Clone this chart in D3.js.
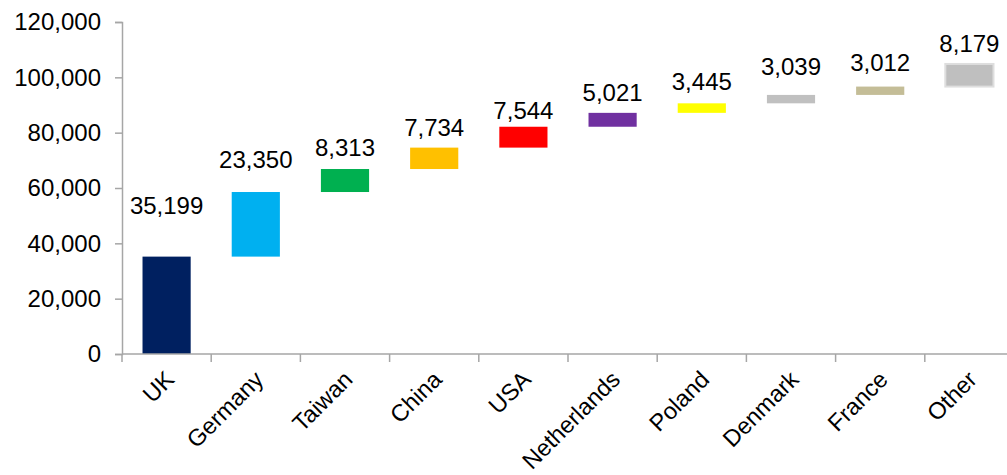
<!DOCTYPE html>
<html>
<head>
<meta charset="utf-8">
<script src="https://cdn.jsdelivr.net/npm/d3@7"></script>
<style>
  html, body { margin: 0; padding: 0; background: #fff; }
  svg { display: block; font-family: "Liberation Sans", Arial, sans-serif; }
</style>
</head>
<body>
<svg id="chart" width="1007" height="475"></svg>
<script>
// ---- Data ----
const categories = ["UK", "Germany", "Taiwan", "China", "USA", "Netherlands", "Poland", "Denmark", "France", "Other"];
const values = [35199, 23350, 8313, 7734, 7544, 5021, 3445, 3039, 3012, 8179];
const yTicks = [0, 20000, 40000, 60000, 80000, 100000, 120000];
const barColors = ["#002060", "#00B0F0", "#00B050", "#FFC000", "#FF0000", "#7030A0", "#FFFF00", "#C0C0C0", "#C4BD97", "#BFBFBF"];

// ---- Layout ----
const svg = d3.select("#chart");
const x0 = 122, x1 = 1014, yTop = 22, yBottom = 354;
const labelLift = [43, 24, 13, 12, 8, 12, 13, 20, 16, 12];

const x = d3.scaleBand().domain(categories).range([x0, x1]).paddingInner(0.46).paddingOuter(0.23);
const y = d3.scaleLinear().domain([0, 120000]).range([yBottom, yTop]);

// cumulative waterfall
let run = 0;
const rows = categories.map((c, i) => {
  const start = run;
  run += values[i];
  return { cat: c, v: values[i], start, end: run, color: barColors[i], i };
});

const fmt = d3.format(",");
const axisColor = "#a6a6a6";

// y axis
const yAxis = svg.append("g")
  .attr("transform", `translate(${x0},0)`)
  .call(d3.axisLeft(y).tickValues(yTicks).tickFormat(fmt).tickSize(7).tickPadding(14));
yAxis.select(".domain").attr("stroke", axisColor).attr("stroke-width", 1.5);
yAxis.selectAll(".tick line").attr("stroke", axisColor).attr("stroke-width", 1.5);
yAxis.selectAll(".tick text").attr("font-size", 24).attr("fill", "#000")
  .attr("font-family", "Liberation Sans, Arial, sans-serif");

// bars
svg.append("g").selectAll("rect").data(rows).join("rect")
  .attr("x", d => x(d.cat))
  .attr("width", x.bandwidth())
  .attr("y", d => y(d.end))
  .attr("height", d => y(d.start) - y(d.end))
  .attr("fill", d => d.color)
  .attr("stroke", d => d.cat === "Other" ? "#dedede" : "none")
  .attr("stroke-width", d => d.cat === "Other" ? 2 : 0);

// x axis with ticks at band boundaries
const step = x.step();
const xAxisG = svg.append("g");
xAxisG.append("line")
  .attr("x1", x0).attr("x2", x1).attr("y1", yBottom).attr("y2", yBottom)
  .attr("stroke", axisColor).attr("stroke-width", 1.5);
xAxisG.selectAll("line.tk").data(categories).join("line")
  .attr("class", "tk")
  .attr("x1", d => x(d) - (step - x.bandwidth()) / 2)
  .attr("x2", d => x(d) - (step - x.bandwidth()) / 2)
  .attr("y1", yBottom).attr("y2", yBottom + 8)
  .attr("stroke", axisColor).attr("stroke-width", 1.5);

// category labels
svg.append("g").selectAll("text").data(categories).join("text")
  .attr("transform", d => `translate(${x(d) + x.bandwidth() / 2 + 9},${yBottom + 27}) rotate(-45)`)
  .attr("text-anchor", "end")
  .attr("font-size", 23.5)
  .attr("fill", "#000")
  .text(d => d);

// value labels
svg.append("g").selectAll("text").data(rows).join("text")
  .attr("x", d => x(d.cat) + x.bandwidth() / 2)
  .attr("y", d => y(d.end) - labelLift[d.i])
  .attr("text-anchor", "middle")
  .attr("font-size", 24)
  .attr("fill", "#000")
  .text(d => fmt(d.v));
</script>
</body>
</html>
